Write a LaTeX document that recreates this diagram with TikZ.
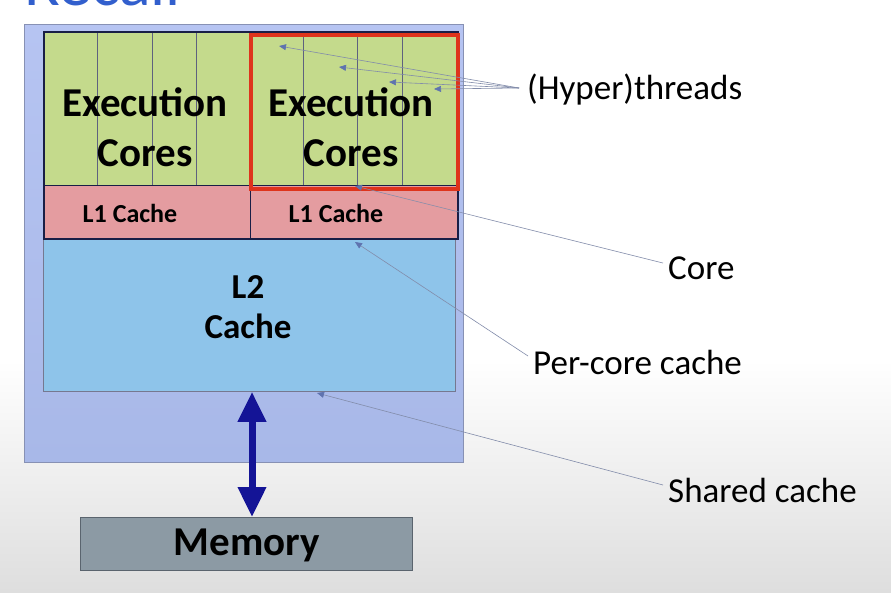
\documentclass[tikz,border=0pt]{standalone}
\usepackage{fontspec}
\setmainfont{Carlito}
\usetikzlibrary{arrows.meta,calc}
\definecolor{outerfill}{RGB}{182,196,242}
\definecolor{outerfillb}{RGB}{168,184,232}
\definecolor{outerline}{RGB}{135,145,180}
\definecolor{greenfill}{RGB}{196,218,140}
\definecolor{pinkfill}{RGB}{228,156,160}
\definecolor{bluefill}{RGB}{142,196,234}
\definecolor{navyline}{RGB}{25,30,70}
\definecolor{redline}{RGB}{222,52,28}
\definecolor{memfill}{RGB}{140,154,164}
\definecolor{memline}{RGB}{90,100,110}
\definecolor{arrowblue}{RGB}{20,20,150}
\definecolor{leadercol}{RGB}{130,140,170}
\definecolor{tipcol}{RGB}{95,115,175}
\definecolor{titleblue}{RGB}{50,95,205}
\definecolor{bggray}{RGB}{222,222,222}
\tikzset{
  boxlabel/.style={font=\bfseries\fontsize{41}{50}\selectfont, align=center, text=black},
  l1label/.style={font=\bfseries\fontsize{26}{30}\selectfont, text=black},
  l2label/.style={font=\bfseries\fontsize{35}{40}\selectfont, align=center, text=black},
  sidelabel/.style={font=\fontsize{35}{40}\selectfont, text=black, anchor=west, inner sep=5pt},
  leader/.style={draw=leadercol, line width=0.6pt, -{Triangle[length=7pt,width=6pt,fill=tipcol,color=tipcol]}},
  divline/.style={draw=navyline!70, line width=0.7pt},
}
\begin{document}
\begin{tikzpicture}[x=1pt,y=-1pt]
\useasboundingbox (0,0) rectangle (891,592);
\begin{scope}
\clip (0,0) rectangle (891,592);
% background
\fill[white] (0,0) rectangle (891,360);
\shade[top color=white, bottom color=bggray] (0,360) rectangle (891,592);
% clipped title (only its lower edge shows)
\node[font=\fontsize{66}{70}\selectfont, text=titleblue, anchor=base west, inner sep=0] (title) at (24,5) {Recall};
\end{scope}
% outer chip box
\shade[top color=outerfill, bottom color=outerfillb] (24,24) rectangle (463,462);
\node[draw=outerline, line width=0.8pt, minimum width=439pt, minimum height=438pt, anchor=north west, inner sep=0] (chip) at (24,24) {};
% L2 cache
\node[fill=bluefill, draw=navyline!60, line width=0.8pt, minimum width=412pt, minimum height=153pt, anchor=north west, inner sep=0] (l2) at (43,238) {};
\node[l2label] (l2text) at (248,307) {L2\\Cache};
% green execution areas
\node[fill=greenfill, minimum width=205pt, minimum height=154pt, anchor=north west, inner sep=0] (gl) at (43,31) {};
\node[fill=greenfill, minimum width=209pt, minimum height=154pt, anchor=north west, inner sep=0] (gr) at (248,31) {};
% thread divider lines
\foreach \xx in {97,152,196} {
  \draw[divline] (gl.north -| \xx,0) -- (gl.south -| \xx,0);
}
\foreach \xx in {303,357,402} {
  \draw[divline] (gr.north -| \xx,0) -- (gr.south -| \xx,0);
}
% L1 caches
\node[fill=pinkfill, draw=navyline, line width=1.2pt, minimum width=207pt, minimum height=53pt, anchor=north west, inner sep=0] (l1a) at (43,185) {};
\node[fill=pinkfill, draw=navyline, line width=1.2pt, minimum width=207pt, minimum height=53pt, anchor=north west, inner sep=0] (l1b) at (250,185) {};
\node[l1label] (l1atext) at (130,213) {L1 Cache};
\node[l1label] (l1btext) at (336,213) {L1 Cache};
% outline of core block
\node[draw=navyline, line width=1.6pt, minimum width=414pt, minimum height=207pt, anchor=north west, inner sep=0] (coreblock) at (43,31) {};
% red highlighted core
\node[draw=redline, line width=4.2pt, minimum width=207pt, minimum height=154pt, anchor=north west, inner sep=0] (redcore) at (248.5,32.5) {};
% execution labels
\node[boxlabel] (exl) at (145,127) {Execution\\Cores};
\node[boxlabel] (exr) at (351,127) {Execution\\Cores};
% memory
\node[fill=memfill, draw=memline, line width=0.8pt, minimum width=332pt, minimum height=53pt, anchor=north west, inner sep=0] (mem) at (80,517) {};
\node[font=\bfseries\fontsize{41}{48}\selectfont, text=black] (memtext) at (247,545) {Memory};
% memory arrow
\draw[arrowblue, line width=7pt, {Triangle[length=30pt,width=27pt]}-{Triangle[length=30pt,width=27pt]}] (l2.south -| 252,0) -- (mem.north -| 252,0);
% side labels
\node[sidelabel] (thr) at (522,90) {(Hyper)threads};
\node[sidelabel] (core) at (663,268) {Core};
\node[sidelabel] (pcc) at (528,362) {Per-core cache};
\node[sidelabel] (shc) at (663,490) {Shared cache};
% leader targets
\coordinate (t1) at (279,46);
\coordinate (t2) at (339,67);
\coordinate (t3) at (389,82);
\coordinate (t4) at (434,89);
\coordinate (ct) at (355,186);
\coordinate (pt) at (355,242);
\coordinate (st) at (317,393);
% leaders
\foreach \t in {t1,t2,t3,t4} { \draw[leader] ($(thr.west)+(-3,-2)$) -- (\t); }
\draw[leader] ($(core.west)+(0,-5)$) -- (ct);
\draw[leader] ($(pcc.west)+(0,-6)$) -- (pt);
\draw[leader] ($(shc.west)+(0,-5)$) -- (st);
\end{tikzpicture}
\end{document}
